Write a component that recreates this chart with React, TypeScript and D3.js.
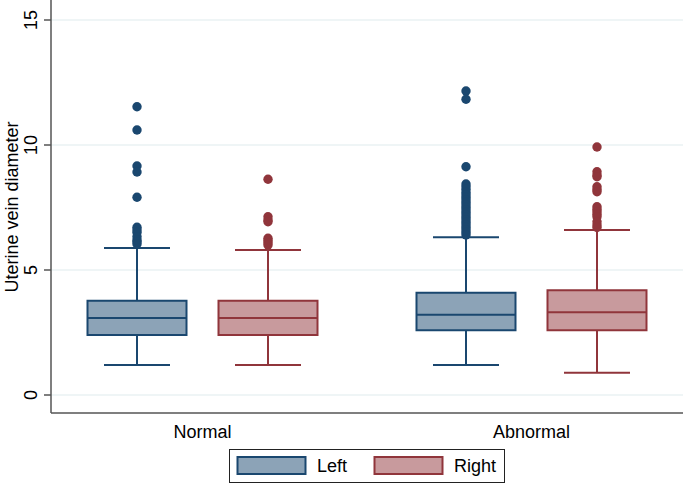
import React from "react";
import * as d3 from "d3";

const groups = ["Normal", "Abnormal"];
const sides = ["Left", "Right"];
const yTicks = [0, 5, 10, 15];

// per group, per side: [whiskerLow, q1, median, q3, whiskerHigh]
const normalLeftStats = [1.2, 2.4, 3.08, 3.77, 5.88];
const normalRightStats = [1.2, 2.4, 3.08, 3.77, 5.8];
const abnormalLeftStats = [1.2, 2.59, 3.21, 4.09, 6.31];
const abnormalRightStats = [0.89, 2.59, 3.31, 4.19, 6.6];

const normalLeftOutliers = [11.53, 10.6, 9.16, 8.92, 7.91, 6.71, 6.6, 6.5, 6.33, 6.2, 6.13, 6.04];
const normalRightOutliers = [8.63, 7.13, 7.0, 6.93, 6.27, 6.18, 6.09, 6.0];
const abnormalLeftOutliers = [
  12.16, 11.83, 9.13, 8.44, 8.33, 8.22, 8.1, 8.0, 7.9, 7.8, 7.7, 7.6, 7.5, 7.4, 7.3,
  7.2, 7.1, 7.0, 6.9, 6.8, 6.7, 6.6, 6.5, 6.4,
];
const abnormalRightOutliers = [
  9.92, 8.93, 8.8, 8.73, 8.33, 8.22, 8.13, 7.53, 7.43, 7.33, 7.23, 7.13, 6.93, 6.8, 6.7,
];

const series = [
  { group: "Normal", side: "Left", stats: normalLeftStats, outliers: normalLeftOutliers },
  { group: "Normal", side: "Right", stats: normalRightStats, outliers: normalRightOutliers },
  { group: "Abnormal", side: "Left", stats: abnormalLeftStats, outliers: abnormalLeftOutliers },
  { group: "Abnormal", side: "Right", stats: abnormalRightStats, outliers: abnormalRightOutliers },
];

const strokeColors: Record<string, string> = { Left: "#1A476F", Right: "#90353B" };
const fillColors: Record<string, string> = { Left: "#8CA3B7", Right: "#C89A9D" };

export default function App() {
  const W = 685;
  const H = 484;
  const plotLeft = 51;
  const plotRight = 683;
  const plotBottom = 413;

  const y = d3.scaleLinear().domain([0, 15]).range([395, 20]);
  const x = d3.scalePoint<string>().domain(groups).range([plotLeft, plotRight]).padding(0.4605);
  const sub = d3.scalePoint<string>().domain(sides).range([-65.5, 65.5]);
  const boxW = 99;
  const capW = 66;
  const font = "Arial, 'Liberation Sans', Helvetica, sans-serif";

  return (
    <svg
      width={W}
      height={H}
      style={{ position: "fixed", left: 0, top: 0, background: "#fff" }}
      fontFamily={font}
    >
      <rect x={0} y={0} width={W} height={H} fill="#fff" />
      {/* gridlines */}
      {yTicks.map((t) => (
        <line key={"g" + t} x1={plotLeft} x2={plotRight} y1={y(t)} y2={y(t)} stroke="#EAF2F3" strokeWidth={1.5} />
      ))}
      {/* axes */}
      <line x1={plotLeft} x2={plotLeft} y1={0} y2={plotBottom} stroke="#555" strokeWidth={1.5} />
      <line x1={plotLeft} x2={plotRight} y1={plotBottom} y2={plotBottom} stroke="#555" strokeWidth={1.5} />
      {yTicks.map((t) => (
        <g key={"t" + t}>
          <line x1={plotLeft - 7} x2={plotLeft} y1={y(t)} y2={y(t)} stroke="#555" strokeWidth={1.5} />
          <text
            transform={`translate(37,${y(t)}) rotate(-90)`}
            textAnchor="middle"
            fontSize={18}
            fill="#000"
          >
            {t}
          </text>
        </g>
      ))}
      <text transform={`translate(18,207) rotate(-90)`} textAnchor="middle" fontSize={18} fill="#000">
        Uterine vein diameter
      </text>
      {groups.map((g) => (
        <text key={g} x={x(g)} y={438} textAnchor="middle" fontSize={18} fill="#000">
          {g}
        </text>
      ))}
      {/* boxes */}
      {series.map((s) => {
        const cx = (x(s.group) as number) + (sub(s.side) as number);
        const [lo, q1, med, q3, hi] = s.stats;
        const sc = strokeColors[s.side];
        return (
          <g key={s.group + s.side}>
            <line x1={cx} x2={cx} y1={y(q3)} y2={y(hi)} stroke={sc} strokeWidth={2} />
            <line x1={cx} x2={cx} y1={y(q1)} y2={y(lo)} stroke={sc} strokeWidth={2} />
            <line x1={cx - capW / 2} x2={cx + capW / 2} y1={y(hi)} y2={y(hi)} stroke={sc} strokeWidth={2} />
            <line x1={cx - capW / 2} x2={cx + capW / 2} y1={y(lo)} y2={y(lo)} stroke={sc} strokeWidth={2} />
            <rect
              x={cx - boxW / 2}
              y={y(q3)}
              width={boxW}
              height={y(q1) - y(q3)}
              fill={fillColors[s.side]}
              stroke={sc}
              strokeWidth={2}
            />
            <line x1={cx - boxW / 2} x2={cx + boxW / 2} y1={y(med)} y2={y(med)} stroke={sc} strokeWidth={2} />
            {s.outliers.map((o, i) => (
              <circle key={i} cx={cx} cy={y(o)} r={4.7} fill={sc} />
            ))}
          </g>
        );
      })}
      {/* legend */}
      <rect x={229.5} y={449.5} width={275} height={33} fill="#fff" stroke="#222" strokeWidth={1} />
      {sides.map((sd, i) => {
        const sx = i === 0 ? 237.5 : 374.5;
        const tx = i === 0 ? 317 : 454;
        return (
          <g key={sd}>
            <rect x={sx} y={457} width={68} height={17} fill={fillColors[sd]} stroke={strokeColors[sd]} strokeWidth={2} />
            <text x={tx} y={472} fontSize={18} fill="#000">
              {sd}
            </text>
          </g>
        );
      })}
    </svg>
  );
}
